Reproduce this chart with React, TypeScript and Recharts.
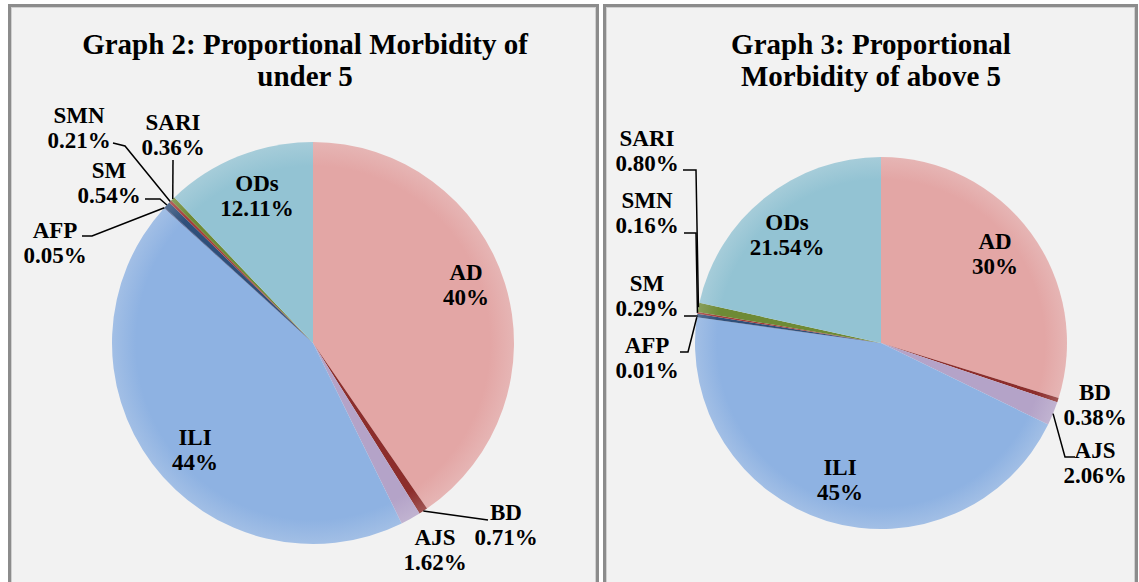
import { FC } from 'react';
import { PieChart, Pie, Cell } from 'recharts';

// categories in clockwise order, starting at 12 o'clock
const categories = ['AD', 'BD', 'AJS', 'ILI', 'AFP', 'SM', 'SMN', 'SARI', 'ODs'];

const under5Values = [40.4, 0.71, 1.62, 44.0, 0.05, 0.54, 0.21, 0.36, 12.11];
const under5Labels = ['40%', '0.71%', '1.62%', '44%', '0.05%', '0.54%', '0.21%', '0.36%', '12.11%'];

const above5Values = [29.8, 0.38, 2.06, 45.0, 0.01, 0.29, 0.16, 0.8, 21.54];
const above5Labels = ['30%', '0.38%', '2.06%', '45%', '0.01%', '0.29%', '0.16%', '0.80%', '21.54%'];

const colors = ['#e3a6a5', '#8c2d2b', '#b4a3c8', '#8eb2e2', '#3a3f7a', '#2f4f7a', '#a33b38', '#6e8a35', '#93c3d3'];

const FONT = '"Liberation Serif", "DejaVu Serif", serif';

// label placement, offsets from the pie centre
type Spot = { tx: number; ty: number; hook?: [number, number]; knee?: [number, number] };

const under5Spots: Spot[] = [
    { tx: 153, ty: -71 },
    { tx: 193, ty: 169, hook: [175, 177] },
    { tx: 122, ty: 194 },
    { tx: -118, ty: 94 },
    { tx: -258, ty: -113, hook: [-231, -107], knee: [-221, -107] },
    { tx: -204, ty: -173, hook: [-168, -144], knee: [-153, -144] },
    { tx: -234, ty: -228, hook: [-200, -200], knee: [-188, -197] },
    { tx: -140, ty: -221, hook: [-140, -183] },
    { tx: -56, ty: -160 },
];

const above5Spots: Spot[] = [
    { tx: 114, ty: -102 },
    { tx: 214, ty: 49 },
    { tx: 214, ty: 107, hook: [194, 114], knee: [184, 114] },
    { tx: -41, ty: 124 },
    { tx: -234, ty: 2, hook: [-201, 9], knee: [-193, 9] },
    { tx: -234, ty: -60, hook: [-197, -27], knee: [-184, -27] },
    { tx: -234, ty: -143, hook: [-197, -110], knee: [-185, -110] },
    { tx: -234, ty: -205, hook: [-198, -173], knee: [-185, -173] },
    { tx: -94, ty: -121 },
];

const RADIAN = Math.PI / 180;

type PanelProps = {
    id: string;
    left: number;
    width: number;
    title: string[];
    titleX: number;
    values: number[];
    labels: string[];
    spots: Spot[];
    cx: number;
    cy: number;
    r: number;
    lineGap: number;
};

const Panel: FC<PanelProps> = ({ id, left, width, title, titleX, values, labels, spots, cx, cy, r, lineGap }) => {
    const data = categories.map((name, i) => ({ name, value: values[i] }));

    const renderLabel = (props: any) => {
        const { midAngle, outerRadius, index } = props;
        const pcx = props.cx;
        const pcy = props.cy;
        const s = spots[index];
        const tx = pcx + s.tx;
        const ty = pcy + s.ty;
        let line = null;
        if (s.hook) {
            const ex = pcx + outerRadius * Math.cos(-midAngle * RADIAN);
            const ey = pcy + outerRadius * Math.sin(-midAngle * RADIAN);
            const pts = [[pcx + s.hook[0], pcy + s.hook[1]]];
            if (s.knee) pts.push([pcx + s.knee[0], pcy + s.knee[1]]);
            pts.push([ex, ey]);
            line = (
                <polyline
                    points={pts.map((p) => p.join(',')).join(' ')}
                    fill="none"
                    stroke="#000"
                    strokeWidth={1.5}
                />
            );
        }
        return (
            <g key={`lbl-${index}`}>
                {line}
                <text
                    x={tx}
                    y={ty}
                    textAnchor="middle"
                    dominantBaseline="central"
                    fontFamily={FONT}
                    fontWeight="bold"
                    fontSize={23}
                    fill="#000"
                >
                    <tspan x={tx} y={ty}>
                        {categories[index]}
                    </tspan>
                    <tspan x={tx} y={ty + lineGap}>
                        {labels[index]}
                    </tspan>
                </text>
            </g>
        );
    };

    return (
        <div
            style={{
                position: 'absolute',
                left,
                top: 4,
                width,
                height: 600,
                background: '#f2f2f2',
                boxShadow: 'inset 0 0 0 3px #8c8c8c, inset 0 0 0 4px #d0d0d0',
            }}
        >
            <PieChart
                width={width}
                height={600}
                margin={{ top: 0, right: 0, bottom: 0, left: 0 }}
                style={{ position: 'absolute', left: 0, top: 0 }}
            >
                <defs>
                    {colors.map((c, i) => (
                        <radialGradient
                            key={c}
                            id={`${id}-g${i}`}
                            gradientUnits="userSpaceOnUse"
                            cx={cx}
                            cy={cy}
                            r={r}
                        >
                            <stop offset="0%" stopColor={c} />
                            <stop offset="88%" stopColor={c} />
                            <stop offset="100%" stopColor={c} stopOpacity={0.8} />
                        </radialGradient>
                    ))}
                </defs>
                <text textAnchor="middle" fontFamily={FONT} fontWeight="bold" fontSize={29} fill="#000">
                    <tspan x={titleX} y={50}>
                        {title[0]}
                    </tspan>
                    <tspan x={titleX} y={82}>
                        {title[1]}
                    </tspan>
                </text>
                <Pie
                    data={data}
                    dataKey="value"
                    nameKey="name"
                    cx={cx}
                    cy={cy}
                    outerRadius={r}
                    startAngle={90}
                    endAngle={-270}
                    stroke="none"
                    label={renderLabel}
                    labelLine={false}
                    isAnimationActive={false}
                >
                    {data.map((d, i) => (
                        <Cell key={d.name} fill={`url(#${id}-g${i})`} />
                    ))}
                </Pie>
            </PieChart>
        </div>
    );
};

const App: FC = () => {
    return (
        <div style={{ position: 'absolute', left: 0, top: 0, width: 1139, height: 582, overflow: 'hidden', background: '#fff' }}>
            <Panel
                id="u5"
                left={8}
                width={591}
                title={['Graph 2: Proportional Morbidity of', 'under 5']}
                titleX={297}
                values={under5Values}
                labels={under5Labels}
                spots={under5Spots}
                cx={305}
                cy={339}
                r={201}
                lineGap={25}
            />
            <Panel
                id="a5"
                left={603}
                width={535}
                title={['Graph 3: Proportional', 'Morbidity of above 5']}
                titleX={268}
                values={above5Values}
                labels={above5Labels}
                spots={above5Spots}
                cx={278}
                cy={339}
                r={186}
                lineGap={25}
            />
        </div>
    );
};

export default App;
